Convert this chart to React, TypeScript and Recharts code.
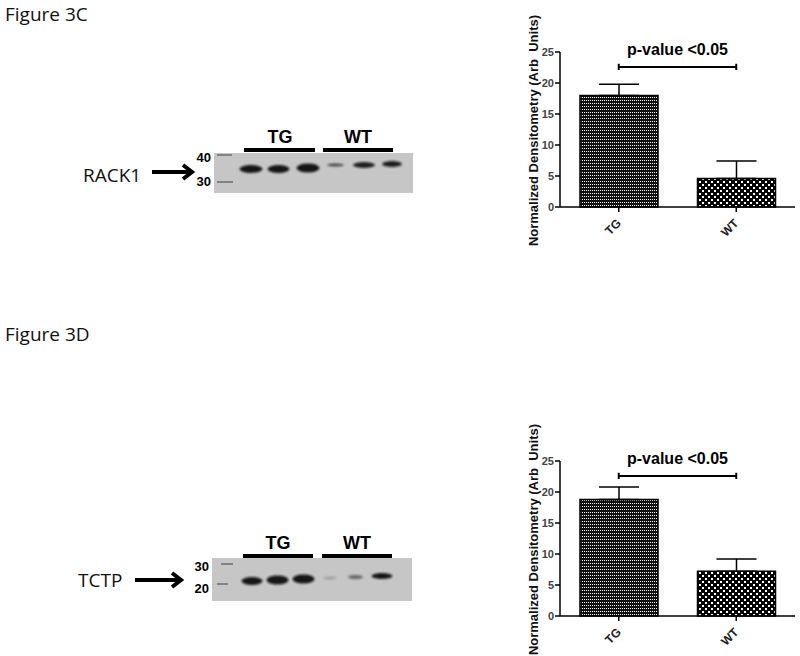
import React from 'react';
import { BarChart, Bar, XAxis, YAxis, Cell, ErrorBar, ReferenceLine, Label } from 'recharts';

// densitometry values
const groups = ['TG', 'WT'];
const rack1Means = [18.0, 4.6];
const rack1Errors = [1.8, 2.8];
const tctpMeans = [18.8, 7.2];
const tctpErrors = [2.0, 2.0];
const yTicks = [0, 5, 10, 15, 20, 25];
const sigLevel = 22.6;
const sigText = 'p-value <0.05';
const yLabel = 'Normalized Densitometry (Arb  Units)';

const SANS = '"Liberation Sans", Arial, sans-serif';
const BODY = '"Open Sans", "Noto Sans", sans-serif';

const GroupTick = (props: any) => {
  const { x, y, payload } = props;
  const ax = x + 3;
  const ay = y + 10;
  return (
    <text
      x={ax}
      y={ay}
      transform={`rotate(-45 ${ax} ${ay})`}
      textAnchor="end"
      fontSize={12}
      fontWeight="bold"
      fill="#222"
      fontFamily={SANS}
    >
      {payload.value}
    </text>
  );
};

function DensitometryChart({ id, means, errors, top }: { id: string; means: number[]; errors: number[]; top: number }) {
  const data = groups.map((g, i) => ({ group: g, mean: means[i], err: [0, errors[i]] }));
  return (
    <div style={{ position: 'absolute', left: 500, top }}>
      <BarChart width={300} height={260} data={data} margin={{ top: 52, right: 5, bottom: 13, left: 0 }}>
        <defs>
          <pattern id={`${id}-fine`} width={2} height={3} patternUnits="userSpaceOnUse">
            <rect width={2} height={3} fill="#111" />
            <rect x={0} y={1} width={1} height={1} fill="#fff" />
          </pattern>
          <pattern id={`${id}-coarse`} width={6} height={6} patternUnits="userSpaceOnUse">
            <rect width={6} height={6} fill="#000" />
            <rect x={1} y={1} width={2} height={2} fill="#fff" />
            <rect x={4} y={4} width={2} height={2} fill="#fff" />
          </pattern>
        </defs>
        <XAxis
          dataKey="group"
          stroke="#000"
          strokeWidth={1.5}
          tickSize={5}
          height={40}
          interval={0}
          tick={<GroupTick />}
        />
        <YAxis
          domain={[0, 25]}
          ticks={yTicks}
          width={60}
          stroke="#000"
          strokeWidth={1.5}
          tickSize={5}
          tickMargin={1}
          tick={{ fontSize: 11, fill: '#444', fontWeight: 'bold', fontFamily: SANS }}
        >
          <Label
            content={(p: any) => {
              const vb = p.viewBox || { x: 0, y: 52, height: 155 };
              const cx = vb.x + 33;
              const cy = vb.y + vb.height / 2 + 1;
              return (
                <text
                  x={cx}
                  y={cy}
                  transform={`rotate(-90 ${cx} ${cy})`}
                  textAnchor="middle"
                  dominantBaseline="central"
                  fontSize={13}
                  fontWeight="bold"
                  fill="#111"
                  fontFamily={SANS}
                  style={{ whiteSpace: 'pre' }}
                >
                  {yLabel}
                </text>
              );
            }}
          />
        </YAxis>
        <Bar dataKey="mean" barSize={78} stroke="#000" strokeWidth={1.5} isAnimationActive={false}>
          <Cell fill={`url(#${id}-fine)`} />
          <Cell fill={`url(#${id}-coarse)`} />
          <ErrorBar dataKey="err" direction="y" width={20} stroke="#000" strokeWidth={1.5} isAnimationActive={false} />
        </Bar>
        <ReferenceLine
          segment={[{ x: 'TG', y: sigLevel }, { x: 'WT', y: sigLevel }]}
          stroke="#000"
          strokeWidth={2}
          label={{ value: sigText, position: 'top', offset: 12, fill: '#000', fontSize: 16, fontWeight: 'bold', fontFamily: SANS }}
        />
        <ReferenceLine segment={[{ x: 'TG', y: sigLevel - 0.5 }, { x: 'TG', y: sigLevel + 0.5 }]} stroke="#000" strokeWidth={2} />
        <ReferenceLine segment={[{ x: 'WT', y: sigLevel - 0.5 }, { x: 'WT', y: sigLevel + 0.5 }]} stroke="#000" strokeWidth={2} />
      </BarChart>
    </div>
  );
}

type Band = [number, number, number, number, number];

function Blot({ x, y, w, h, bands, barY, tgBar, wtBar, tgX, wtX, headY, ladder }: {
  x: number; y: number; w: number; h: number; bands: Band[]; barY: number;
  tgBar: [number, number]; wtBar: [number, number]; tgX: number; wtX: number; headY: number;
  ladder: { label: string; ty: number; my: number; m0: number; m1: number }[];
}) {
  return (
    <g>
      <rect x={x} y={y} width={w} height={h} fill="#c6c6c6" />
      {bands.map(([cx, cy, bw, bh, op], i) => (
        <ellipse key={i} cx={cx} cy={cy} rx={bw / 2} ry={bh / 2} fill="#111" opacity={op} filter="url(#bandBlur)" />
      ))}
      {ladder.map((l) => (
        <g key={l.label}>
          <line x1={l.m0} x2={l.m1} y1={l.my} y2={l.my} stroke="#555" strokeWidth={1.2} />
          <text x={x - 3} y={l.ty} textAnchor="end" fontSize={13} fontWeight="bold" fontFamily={SANS} fill="#000">
            {l.label}
          </text>
        </g>
      ))}
      <rect x={tgBar[0]} y={barY - 2} width={tgBar[1] - tgBar[0]} height={4} fill="#000" />
      <rect x={wtBar[0]} y={barY - 2} width={wtBar[1] - wtBar[0]} height={4} fill="#000" />
      <text x={tgX} y={headY} textAnchor="middle" fontSize={18} fontWeight="bold" fontFamily={SANS} fill="#000">TG</text>
      <text x={wtX} y={headY} textAnchor="middle" fontSize={18} fontWeight="bold" fontFamily={SANS} fill="#000">WT</text>
    </g>
  );
}

function Arrow({ x0, x1, y }: { x0: number; x1: number; y: number }) {
  return (
    <g>
      <line x1={x0} x2={x1 - 3} y1={y} y2={y} stroke="#000" strokeWidth={4} />
      <polyline points={`${x1 - 11},${y - 7} ${x1 - 2},${y} ${x1 - 11},${y + 7}`} fill="none" stroke="#000" strokeWidth={4} />
    </g>
  );
}

export default function App() {
  return (
    <div style={{ position: 'absolute', left: 0, top: 0, width: 800, height: 656, background: '#fff', fontFamily: SANS }}>
      <svg width={800} height={656} style={{ position: 'absolute', left: 0, top: 0 }}>
        <defs>
          <filter id="bandBlur" x="-30%" y="-80%" width="160%" height="260%">
            <feGaussianBlur stdDeviation={1} />
          </filter>
        </defs>
        <text x={5} y={21} fontSize={19} fontFamily={BODY} fill="#111">Figure 3C</text>
        <text x={5} y={341} fontSize={19} fontFamily={BODY} fill="#111">Figure 3D</text>

        <text x={83} y={182} fontSize={19} fontFamily={BODY} fill="#111">RACK1</text>
        <Arrow x0={152} x1={194} y={172} />
        <Blot
          x={214} y={153} w={199} h={40}
          bands={[
            [251, 169, 23, 8, 0.95], [278.5, 169, 22, 8, 0.95], [308, 168, 23, 9, 0.95],
            [335.5, 165, 17, 3, 0.7], [364, 165, 22, 6, 0.9], [392, 164, 20, 6, 0.9],
          ]}
          barY={150} tgBar={[244, 315]} wtBar={[323, 393]} tgX={280} wtX={358} headY={143}
          ladder={[
            { label: '40', ty: 162, my: 155, m0: 217, m1: 232 },
            { label: '30', ty: 186, my: 182, m0: 217, m1: 233 },
          ]}
        />

        <text x={78} y={587} fontSize={19} fontFamily={BODY} fill="#111">TCTP</text>
        <Arrow x0={135} x1={183} y={580} />
        <Blot
          x={212} y={558} w={200} h={43}
          bands={[
            [252, 581, 21, 8, 0.95], [277.5, 580, 22, 9, 0.95], [303.5, 579, 22, 9, 0.95],
            [330, 578, 14, 3, 0.2], [355.5, 577, 15, 4, 0.5], [382, 576, 21, 6, 0.95],
          ]}
          barY={556} tgBar={[243, 313]} wtBar={[322, 392]} tgX={278} wtX={357} headY={549}
          ladder={[
            { label: '30', ty: 571, my: 564, m0: 221, m1: 233 },
            { label: '20', ty: 593, my: 584, m0: 217, m1: 228 },
          ]}
        />
      </svg>
      <DensitometryChart id="rack1" means={rack1Means} errors={rack1Errors} top={0} />
      <DensitometryChart id="tctp" means={tctpMeans} errors={tctpErrors} top={409} />
    </div>
  );
}
